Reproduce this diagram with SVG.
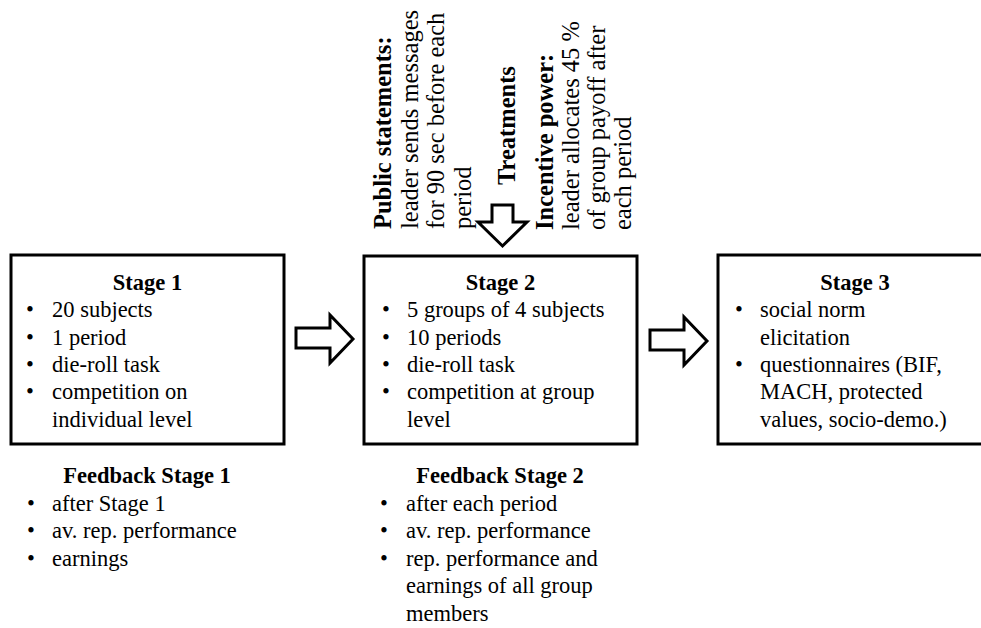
<svg xmlns="http://www.w3.org/2000/svg" width="981" height="628" viewBox="0 0 981 628">
<style>
.t{font-family:"Liberation Serif","Times New Roman",serif;font-size:22.5px;fill:#000}
.r{font-family:"Liberation Serif","Times New Roman",serif;font-size:24.5px;fill:#000}
.b{font-weight:bold}
.c{text-anchor:middle}
.box{fill:#fff;stroke:#000;stroke-width:3}
.arr{fill:#fff;stroke:#000;stroke-width:3;stroke-linejoin:miter}
</style>
<rect width="981" height="628" fill="#fff"/>
<g id="treatments">
<text class="r b" transform="rotate(-90 391 229)" x="391" y="229">Public statements:</text>
<text class="r" transform="rotate(-90 417.5 229)" x="417.5" y="229">leader sends messages</text>
<text class="r" transform="rotate(-90 444 229)" x="444" y="229">for 90 sec before each</text>
<text class="r" transform="rotate(-90 470.5 229)" x="470.5" y="229">period</text>
<text class="r b" transform="rotate(-90 515 185)" x="515" y="185">Treatments</text>
<text class="r b" transform="rotate(-90 553 230)" x="553" y="230">Incentive power:</text>
<text class="r" transform="rotate(-90 579 230)" x="579" y="230">leader allocates 45 %</text>
<text class="r" transform="rotate(-90 605 230)" x="605" y="230">of group payoff after</text>
<text class="r" transform="rotate(-90 631 230)" x="631" y="230">each period</text>
</g>
<g id="connectors">
<polygon class="arr" points="492,205 513,205 513,222 527,222 502.5,246 478,222 492,222"/>
<polygon class="arr" points="296,328 330,328 330,315 353,339 330,363 330,348 296,348"/>
<polygon class="arr" points="650,330 684,330 684,317 707,341 684,365 684,350 650,350"/>
</g>
<g id="stage1">
<rect class="box" x="11" y="255" width="273" height="189"/>
<text class="t b c" x="147.5" y="290">Stage 1</text>
<text class="t c" x="30" y="317">•</text><text class="t" x="52" y="317">20 subjects</text>
<text class="t c" x="30" y="344.5">•</text><text class="t" x="52" y="344.5">1 period</text>
<text class="t c" x="30" y="372">•</text><text class="t" x="52" y="372">die-roll task</text>
<text class="t c" x="30" y="399">•</text><text class="t" x="52" y="399">competition on</text>
<text class="t" x="52" y="426.5">individual level</text>
</g>
<g id="stage2">
<rect class="box" x="364" y="256" width="273" height="188"/>
<text class="t b c" x="500.5" y="290">Stage 2</text>
<text class="t c" x="386" y="317">•</text><text class="t" x="407" y="317">5 groups of 4 subjects</text>
<text class="t c" x="386" y="344.5">•</text><text class="t" x="407" y="344.5">10 periods</text>
<text class="t c" x="386" y="372">•</text><text class="t" x="407" y="372">die-roll task</text>
<text class="t c" x="386" y="399">•</text><text class="t" x="407" y="399">competition at group</text>
<text class="t" x="407" y="426.5">level</text>
</g>
<g id="stage3">
<rect class="box" x="718" y="255" width="280" height="189"/>
<text class="t b c" x="855" y="290">Stage 3</text>
<text class="t c" x="739" y="317">•</text><text class="t" x="760" y="317">social norm</text>
<text class="t" x="760" y="344.5">elicitation</text>
<text class="t c" x="739" y="372">•</text><text class="t" x="760" y="372">questionnaires (BIF,</text>
<text class="t" x="760" y="399">MACH, protected</text>
<text class="t" x="760" y="426.5">values, socio-demo.)</text>
</g>
<g id="feedback1">
<text class="t b c" x="147" y="483">Feedback Stage 1</text>
<text class="t c" x="31" y="510.5">•</text><text class="t" x="52" y="510.5">after Stage 1</text>
<text class="t c" x="31" y="538">•</text><text class="t" x="52" y="538">av. rep. performance</text>
<text class="t c" x="31" y="565.5">•</text><text class="t" x="52" y="565.5">earnings</text>
</g>
<g id="feedback2">
<text class="t b c" x="500" y="483">Feedback Stage 2</text>
<text class="t c" x="384" y="510.5">•</text><text class="t" x="406" y="510.5">after each period</text>
<text class="t c" x="384" y="538">•</text><text class="t" x="406" y="538">av. rep. performance</text>
<text class="t c" x="384" y="565.5">•</text><text class="t" x="406" y="565.5">rep. performance and</text>
<text class="t" x="406" y="593">earnings of all group</text>
<text class="t" x="406" y="620.5">members</text>
</g>
</svg>
